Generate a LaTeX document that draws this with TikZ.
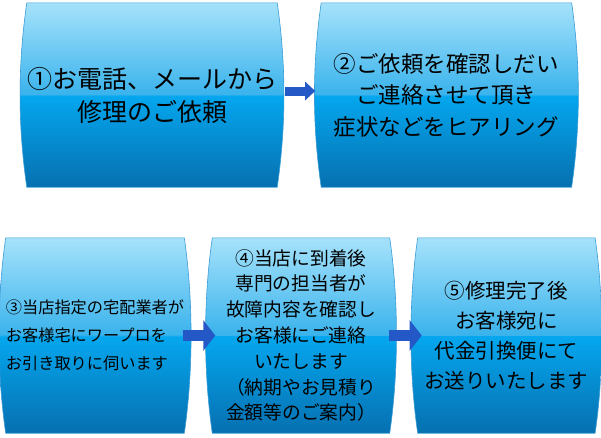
\documentclass[tikz,border=0pt]{standalone}
\usepackage{fontspec}
\newfontfamily\jpfont{Noto Sans CJK JP}
\usetikzlibrary{positioning}
\usetikzlibrary{calc}
\usetikzlibrary{arrows.meta}
\usetikzlibrary{backgrounds}
\definecolor{glosstop}{HTML}{A6E2FB}
\definecolor{glossup}{HTML}{3AB3EC}
\definecolor{glosslow}{HTML}{05A7EF}
\definecolor{glossbot}{HTML}{0670B0}
\definecolor{boxedge}{HTML}{3A9BD5}
\definecolor{flowblue}{HTML}{2458C6}
\pgfdeclareverticalshading{glossy}{100bp}{color(0bp)=(glossbot); color(25bp)=(glossbot); color(49.9bp)=(glosslow); color(50.1bp)=(glossup); color(75bp)=(glosstop); color(100bp)=(glosstop)}
\tikzset{stagebox/.style={inner sep=0pt, align=center}}
\tikzset{boxfill/.style={draw=boxedge, line width=0.6pt, shading=glossy}}
\tikzset{textA/.style={font=\jpfont\fontsize{25}{33}\selectfont}}
\tikzset{textB/.style={font=\jpfont\fontsize{22.5}{31.5}\selectfont}}
\tikzset{textC/.style={font=\jpfont\fontsize{16.2}{28}\selectfont}}
\tikzset{textD/.style={font=\jpfont\fontsize{18.75}{25.8}\selectfont}}
\tikzset{textE/.style={font=\jpfont\fontsize{20.5}{30}\selectfont}}
\tikzset{flowsmall/.style={draw=flowblue, line width=9pt, -{Triangle[width=18pt,length=10pt]}}}
\tikzset{flowbig/.style={draw=flowblue, line width=11pt, -{Triangle[width=30pt,length=12pt]}}}

\begin{document}
\begin{tikzpicture}[x=1pt, y=-1pt]
    \useasboundingbox (0,0) rectangle (601,437);

    % Nodes
    \node [stagebox, textA, minimum width=250pt, minimum height=184pt] (step1) at (152,95) {①お電話、メールから\\修理のご依頼};
    \node [stagebox, textB, minimum width=250pt, minimum height=184pt, anchor=west] (step2) at ($(step1.east) + (44,0)$) {②ご依頼を確認しだい\\ご連絡させて頂き\\症状などをヒアリング};
    \node [stagebox, textC, align=left, minimum width=178pt, minimum height=195pt] (step3) at (95,335.5) {③当店指定の宅配業者が\\お客様宅にワープロを\\お引き取りに伺います};
    \node [stagebox, textD, minimum width=177pt, minimum height=195pt, anchor=west] (step4) at ($(step3.east) + (28,0)$) {④当店に到着後\\専門の担当者が\\故障内容を確認し\\お客様にご連絡\\いたします\\（納期やお見積り\\金額等のご案内）};
    \node [stagebox, textE, minimum width=177pt, minimum height=195pt, anchor=west] (step5) at ($(step4.east) + (28,0)$) {⑤修理完了後\\お客様宛に\\代金引換便にて\\お送りいたします};

    % Box shapes behind the text
    \begin{pgfonlayer}{background}
    \foreach \s in {step1,step2,step3,step4,step5}
        \path [boxfill] (\s.north west) .. controls +(-9,62) and +(-9,-62) .. (\s.south west)
            -- (\s.south east) .. controls +(9,-62) and +(9,62) .. (\s.north east) -- cycle;
    \end{pgfonlayer}

    % Arrows between nodes
    \draw [flowsmall, shorten <=8pt, shorten >=6pt] ([yshift=4pt]step1.east) -- ([yshift=4pt]step2.west);
    \draw [flowbig, shorten <=-1pt, shorten >=-3pt] (step3.east) -- (step4.west);
    \draw [flowbig, shorten <=-1pt, shorten >=-4pt] (step4.east) -- (step5.west);

\end{tikzpicture}
\end{document}
